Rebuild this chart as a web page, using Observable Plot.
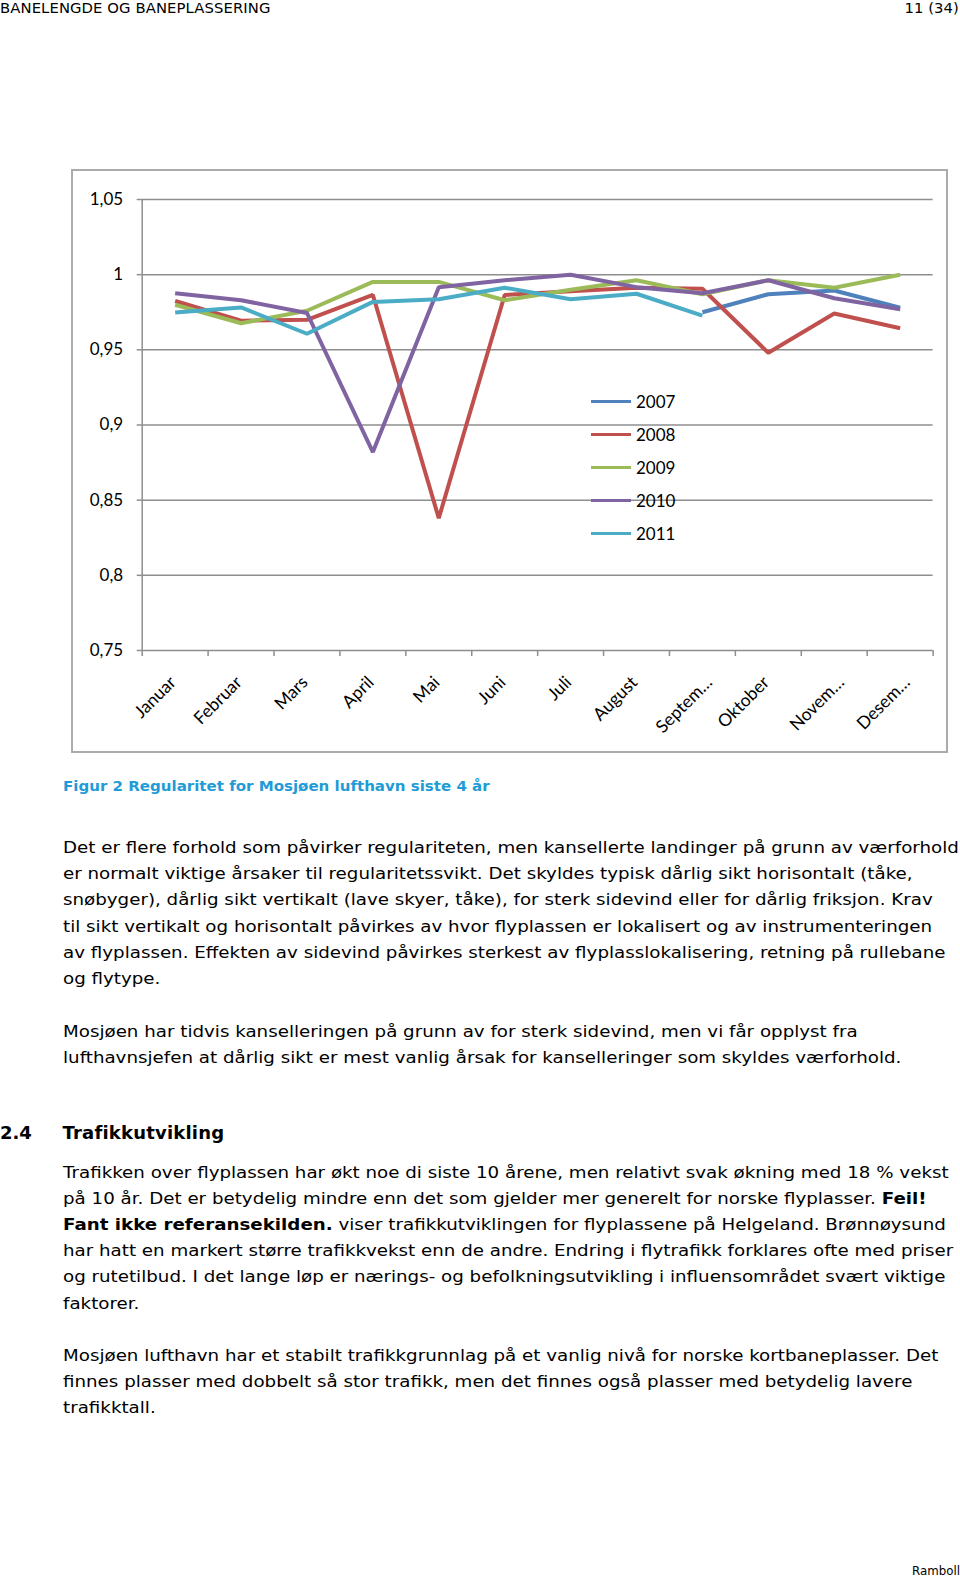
<!DOCTYPE html>
<html>
<head>
<meta charset="utf-8">
<script src="https://cdn.jsdelivr.net/npm/d3@7"></script>
<script src="https://cdn.jsdelivr.net/npm/@observablehq/plot@0.6"></script>
<style>
  html, body { margin: 0; padding: 0; background: #fff; }
  #page { position: relative; width: 960px; height: 1579px; overflow: hidden;
          font-family: "DejaVu Sans", Verdana, sans-serif; color: #000; }
  .abs { position: absolute; white-space: nowrap; }
  .hdr { font-size: 14.8px; line-height: 0.9; top: 1px; letter-spacing: 0.1px; }
  .body { font-size: 16px; line-height: 26.2px; left: 62.5px; transform: scaleX(1.14); transform-origin: 0 0; }
  .caption { font-size: 14px; font-weight: bold; color: #1f9bd7; left: 62.5px; line-height: 17px; transform: scaleX(1.074); transform-origin: 0 0; }
  .h2 { font-size: 18px; font-weight: bold; line-height: 22px; }
  #box { position: absolute; left: 70.7px; top: 169px; width: 877px; height: 584px;
         box-sizing: border-box; border: 2px solid #ababab; }
  #chart { position: absolute; left: 71px; top: 170px; }
  #legend { position: absolute; left: 0; top: 0; font-family: Lato, "Open Sans", sans-serif; font-size: 17px; }
  .lg { position: absolute; display: flex; align-items: center; height: 20px; }
  .lg .sw { width: 40px; height: 3px; margin-right: 5px; }
</style>
</head>
<body>
<div id="page">
  <div class="abs hdr" style="left:0;">BANELENGDE OG BANEPLASSERING</div>
  <div class="abs hdr" style="right:1px;">11 (34)</div>

  <div id="box"></div>
  <div id="chart"></div>
  <div id="legend"></div>

  <div class="abs caption" style="top:778px;">Figur 2 Regularitet for Mosjøen lufthavn siste 4 år</div>

  <div class="abs body" style="top:835px;">Det er flere forhold som påvirker regulariteten, men kansellerte landinger på grunn av værforhold<br>er normalt viktige årsaker til regularitetssvikt. Det skyldes typisk dårlig sikt horisontalt (tåke,<br>snøbyger), dårlig sikt vertikalt (lave skyer, tåke), for sterk sidevind eller for dårlig friksjon. Krav<br>til sikt vertikalt og horisontalt påvirkes av hvor flyplassen er lokalisert og av instrumenteringen<br>av flyplassen. Effekten av sidevind påvirkes sterkest av flyplasslokalisering, retning på rullebane<br>og flytype.</div>

  <div class="abs body" style="top:1018.5px;">Mosjøen har tidvis kanselleringen på grunn av for sterk sidevind, men vi får opplyst fra<br>lufthavnsjefen at dårlig sikt er mest vanlig årsak for kanselleringer som skyldes værforhold.</div>

  <div class="abs h2" style="left:0;top:1122px;">2.4</div>
  <div class="abs h2" style="left:62.5px;top:1122px;letter-spacing:0.2px;">Trafikkutvikling</div>

  <div class="abs body" style="top:1159.5px;">Trafikken over flyplassen har økt noe di siste 10 årene, men relativt svak økning med 18 % vekst<br>på 10 år. Det er betydelig mindre enn det som gjelder mer generelt for norske flyplasser. <b>Feil!</b><br><b>Fant ikke referansekilden.</b> viser trafikkutviklingen for flyplassene på Helgeland. Brønnøysund<br>har hatt en markert større trafikkvekst enn de andre. Endring i flytrafikk forklares ofte med priser<br>og rutetilbud. I det lange løp er nærings- og befolkningsutvikling i influensområdet svært viktige<br>faktorer.</div>

  <div class="abs body" style="top:1343px;">Mosjøen lufthavn har et stabilt trafikkgrunnlag på et vanlig nivå for norske kortbaneplasser. Det<br>finnes plasser med dobbelt så stor trafikk, men det finnes også plasser med betydelig lavere<br>trafikktall.</div>

  <div class="abs" style="right:0;top:1564px;font-size:11.8px;line-height:14px;">Ramboll</div>
</div>

<script>
// ---- Data ----
const months = ["Januar", "Februar", "Mars", "April", "Mai", "Juni", "Juli", "August", "Septem…", "Oktober", "Novem…", "Desem…"];
const years = ["2007", "2008", "2009", "2010", "2011"];
const colors = ["#4F81BD", "#C0504D", "#9BBB59", "#8064A2", "#4BACC6"];
const v2007 = [null, null, null, null, null, null, null, null, 0.975, 0.987, 0.9895, 0.978];
const v2008 = [0.9825, 0.9694, 0.970, 0.9865, 0.838, 0.9865, 0.989, 0.9913, 0.9906, 0.948, 0.9742, 0.9644];
const v2009 = [0.980, 0.9677, 0.976, 0.9952, 0.9952, 0.983, 0.990, 0.9963, 0.987, 0.9963, 0.9913, 1.0];
const v2010 = [0.9876, 0.983, 0.9745, 0.882, 0.9917, 0.9963, 1.0, 0.9917, 0.9876, 0.9963, 0.9843, 0.977];
const v2011 = [0.9749, 0.9782, 0.9607, 0.9819, 0.9836, 0.9913, 0.9836, 0.9873, 0.9727, null, null, null];
const yTicks = [0.75, 0.8, 0.85, 0.9, 0.95, 1, 1.05];

const seriesValues = [v2007, v2008, v2009, v2010, v2011];
const rows = [];
years.forEach((year, k) => seriesValues[k].forEach((v, i) => rows.push({year, i, v})));

const fmt = d => String(+d.toFixed(2)).replace(".", ",");
const grid = "#8e8e8e";
const idx = d3.range(months.length);
const truncated = idx.filter(i => months[i].endsWith("…"));
const full = idx.filter(i => !months[i].endsWith("…"));

const chart = Plot.plot({
  width: 876,
  height: 582,
  marginLeft: 70.7,
  marginRight: 14.4,
  marginTop: 29,
  marginBottom: 102,
  style: {fontFamily: "Lato, 'Open Sans', sans-serif", fontSize: "17px", color: "#000", background: "transparent", overflow: "visible"},
  x: {type: "linear", domain: [-0.5, months.length - 0.5]},
  y: {domain: [0.75, 1.05]},
  color: {domain: years, range: colors},
  marks: [
    Plot.ruleY(yTicks, {stroke: grid, strokeWidth: 1.5}),
    Plot.ruleX([-0.5], {stroke: grid, strokeWidth: 1.5}),
    Plot.axisY({ticks: yTicks, tickSize: 5, tickPadding: 14, tickFormat: fmt, stroke: grid, strokeWidth: 1.5, label: null}),
    Plot.axisX({ticks: d3.range(months.length + 1).map(i => i - 0.5), tickSize: 6, tickFormat: () => "", stroke: grid, strokeWidth: 1.5, label: null}),
    Plot.axisX({ticks: full, tickSize: 0, tickPadding: 29, tickRotate: -45, tickFormat: i => months[i], label: null, fontSize: 17.5, dx: -2}),
    Plot.axisX({ticks: truncated, tickSize: 0, tickPadding: 29, tickRotate: -45, tickFormat: i => months[i], label: null, fontSize: 17.5, dx: 7}),
    Plot.line(rows, {x: "i", y: "v", z: "year", stroke: "year", strokeWidth: 4, strokeLinejoin: "miter", strokeLinecap: "butt"})
  ]
});
document.getElementById("chart").appendChild(chart);

// Legend (HTML overlay)
const legendTops = [401, 434, 467, 500.7, 533.3];
const legend = document.getElementById("legend");
years.forEach((y, k) => {
  const d = document.createElement("div");
  d.className = "lg";
  d.style.left = "591px";
  d.style.top = (legendTops[k] - 10) + "px";
  d.innerHTML = `<span class="sw" style="background:${colors[k]}"></span><span>${y}</span>`;
  legend.appendChild(d);
});
</script>
</body>
</html>
